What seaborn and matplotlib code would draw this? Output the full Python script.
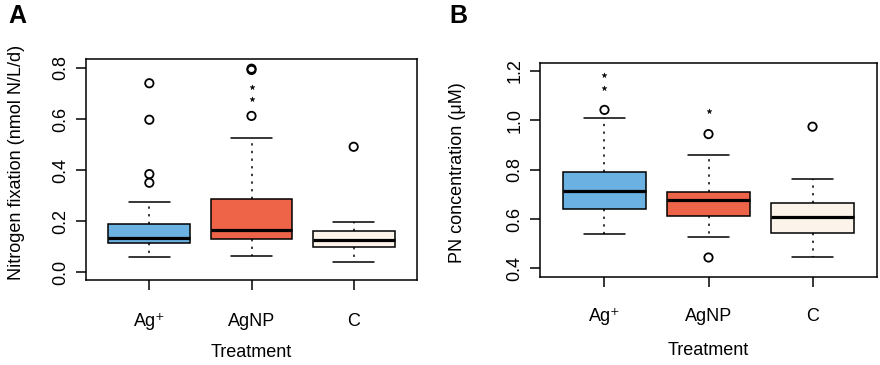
import matplotlib
matplotlib.use("Agg")
import matplotlib.pyplot as plt
import seaborn as sns

# ---------------- data ----------------
groups = ["Ag\u207a", "AgNP", "C"]
box_colors = ["#6BB1E2", "#EE6449", "#FCF4EA"]

# Panel A: Nitrogen fixation (nmol N/L/d)
a_whislo = [0.060, 0.065, 0.039]
a_q1 = [0.115, 0.130, 0.099]
a_med = [0.134, 0.164, 0.125]
a_q3 = [0.187, 0.288, 0.160]
a_whishi = [0.273, 0.525, 0.197]
a_out_circle = [[0.740, 0.597, 0.384, 0.350], [0.792, 0.797, 0.612], [0.491]]
a_out_star = [[], [0.726, 0.680], []]

# Panel B: PN concentration (uM)
b_whislo = [0.540, 0.528, 0.446]
b_q1 = [0.640, 0.611, 0.545]
b_med = [0.715, 0.677, 0.609]
b_q3 = [0.792, 0.711, 0.664]
b_whishi = [1.011, 0.861, 0.764]
b_out_circle = [[1.042], [0.944, 0.444], [0.974]]
b_out_star = [[1.182, 1.131], [1.037], []]

a_yticks = [0.0, 0.2, 0.4, 0.6, 0.8]
b_yticks = [0.4, 0.6, 0.8, 1.0, 1.2]

# ---------------- style ----------------
sns.set_theme(style="white")
plt.rcParams["font.family"] = ["Liberation Sans", "DejaVu Sans"]
plt.rcParams["axes.edgecolor"] = "black"
plt.rcParams["axes.linewidth"] = 1.1
plt.rcParams["text.color"] = "black"
plt.rcParams["axes.labelcolor"] = "black"
plt.rcParams["xtick.color"] = "black"
plt.rcParams["ytick.color"] = "black"

FS = 13

fig = plt.figure(figsize=(8.8, 3.65), dpi=100)
axA = fig.add_axes([86 / 880, 1 - 280 / 365, 331 / 880, 221 / 365])
axB = fig.add_axes([540 / 880, 1 - 277 / 365, 337 / 880, 214 / 365])


def draw_panel(ax, whislo, q1, med, q3, whishi, circ, star, yticks, ylim,
               ylabel, ylab_xy, xlab_y, xpad):
    stats = []
    for i in range(len(groups)):
        stats.append(dict(whislo=whislo[i], q1=q1[i], med=med[i], q3=q3[i],
                          whishi=whishi[i], fliers=[], label=groups[i]))
    pos = [1, 2, 3]
    bp = ax.bxp(stats, positions=pos, widths=0.8, capwidths=0.4,
                patch_artist=True, showfliers=False,
                boxprops=dict(linewidth=1.1, edgecolor="black"),
                medianprops=dict(linewidth=2.3, color="black"),
                whiskerprops=dict(linewidth=1.1, color="black",
                                  linestyle=(0, (1.5, 3.5))),
                capprops=dict(linewidth=1.1, color="black"))
    for patch, c in zip(bp["boxes"], box_colors):
        patch.set_facecolor(c)

    cx, cy, sx, sy = [], [], [], []
    for i in range(len(groups)):
        for v in circ[i]:
            cx.append(pos[i]); cy.append(v)
        for v in star[i]:
            sx.append(pos[i]); sy.append(v)
    sns.scatterplot(x=cx, y=cy, ax=ax, marker="o", s=36,
                    facecolors="none", edgecolors="black", linewidth=1.3,
                    zorder=5)
    if sx:
        sns.scatterplot(x=sx, y=sy, ax=ax, marker="*", s=14,
                        color="black", edgecolor="black", linewidth=0.3,
                        zorder=5)

    ax.set_xlim(0.38, 3.62)
    ax.set_ylim(*ylim)
    ax.set_xticks(pos)
    ax.set_xticklabels(groups, fontsize=FS)
    ax.set_yticks(yticks)
    ax.set_yticklabels([f"{t:.1f}" for t in yticks], fontsize=FS,
                       rotation=90, va="center")
    ax.tick_params(axis="x", length=7, width=1.1, pad=xpad, colors="black",
                   bottom=True)
    ax.tick_params(axis="y", length=7, width=1.1, pad=5, colors="black",
                   left=True)
    for s in ax.spines.values():
        s.set_visible(True)
        s.set_color("black")
    ax.set_xlabel("Treatment", fontsize=FS, va="top")
    ax.xaxis.set_label_coords(0.5, xlab_y)
    ax.set_ylabel(ylabel, fontsize=FS)
    ax.yaxis.set_label_coords(*ylab_xy)
    ax.grid(False)


draw_panel(axA, a_whislo, a_q1, a_med, a_q3, a_whishi, a_out_circle,
           a_out_star, a_yticks, (-0.031, 0.835),
           "Nitrogen fixation (nmol N/L/d)", (-0.185, 0.53), -0.29, 17)
draw_panel(axB, b_whislo, b_q1, b_med, b_q3, b_whishi, b_out_circle,
           b_out_star, b_yticks, (0.365, 1.232),
           "PN concentration (\u03bcM)", (-0.22, 0.49), -0.304, 15)

fig.text(8 / 880, 1 - 23 / 365, "A", fontsize=18, fontweight="bold",
         ha="left", va="baseline")
fig.text(449 / 880, 1 - 23 / 365, "B", fontsize=18, fontweight="bold",
         ha="left", va="baseline")

fig.savefig("out.png", dpi=100)
